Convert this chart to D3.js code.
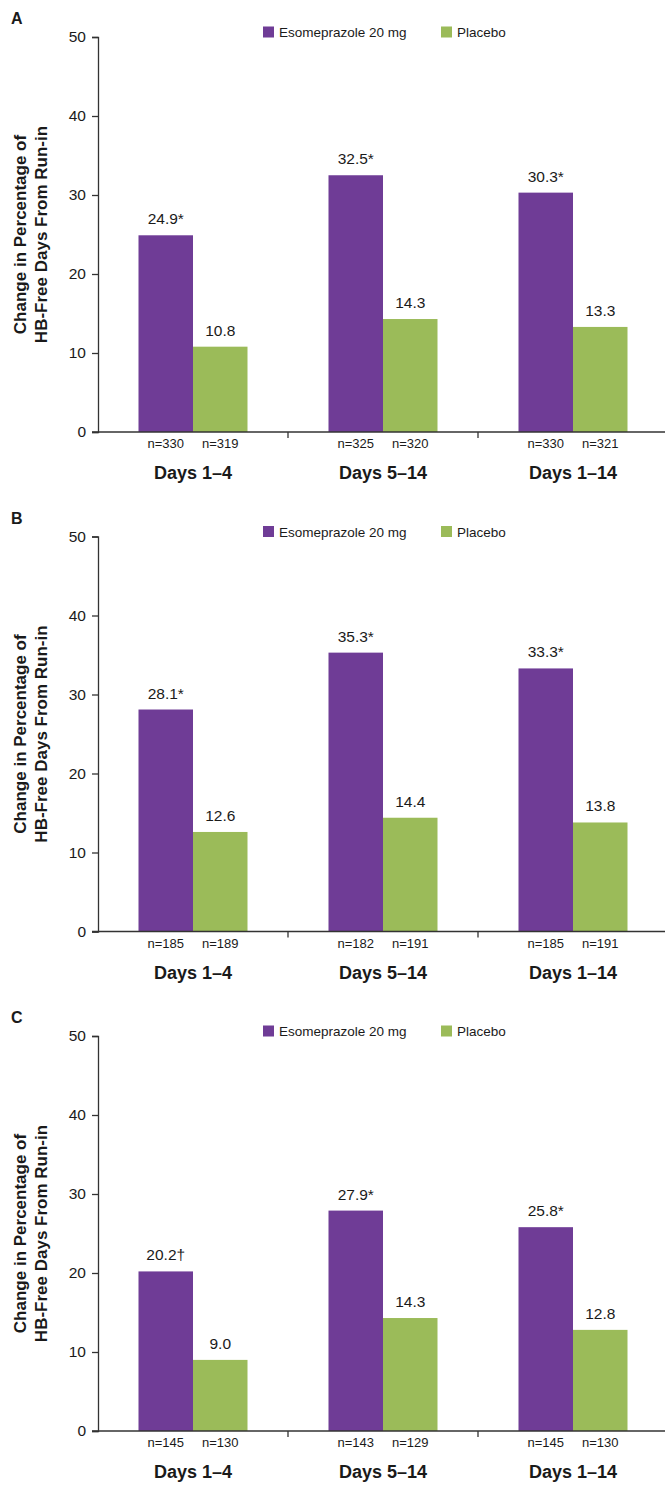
<!DOCTYPE html>
<html>
<head>
<meta charset="utf-8">
<script src="https://cdn.jsdelivr.net/npm/d3@7"></script>
<style>
  body { margin: 0; background: #fff; }
  text { font-family: "Liberation Sans", Arial, sans-serif; fill: #1a1a1a; }
</style>
</head>
<body>
<div class="chart"></div>
<script>
// data
var panels = ["A", "B", "C"];
var periods = ["Days 1\u20134", "Days 5\u201314", "Days 1\u201314"];
var seriesNames = ["Esomeprazole 20 mg", "Placebo"];
var esoValues = [[24.9, 32.5, 30.3], [28.1, 35.3, 33.3], [20.2, 27.9, 25.8]];
var placeboValues = [[10.8, 14.3, 13.3], [12.6, 14.4, 13.8], [9.0, 14.3, 12.8]];
var esoMarks = [["*", "*", "*"], ["*", "*", "*"], ["\u2020", "*", "*"]];
var esoN = [[330, 325, 330], [185, 182, 185], [145, 143, 145]];
var placeboN = [[319, 320, 321], [189, 191, 191], [130, 129, 130]];
var yTicks = [0, 10, 20, 30, 40, 50];

var colors = ["#6f3c96", "#9bbb59"];
var width = 665, height = 1485;
var panelStep = 499.5;

var svg = d3.select(".chart").append("svg")
  .attr("width", width)
  .attr("height", height);

function drawPanel(p) {
  var top = 37 + p * panelStep;
  var bottom = 432 + p * panelStep;
  var g = svg.append("g");

  var y = d3.scaleLinear().domain([0, 50]).range([bottom, top]);
  var x = d3.scaleBand().domain(periods).range([98, 668]);
  var xs = d3.scaleBand().domain(seriesNames).range([0, 109]);
  var pad = (x.bandwidth() - 109) / 2;

  // panel letter
  g.append("text")
    .attr("x", 11).attr("y", top - 13)
    .style("font-size", "16px").style("font-weight", "bold")
    .text(panels[p]);

  // legend
  var legend = g.append("g").attr("transform", "translate(263," + (top - 5) + ")");
  var legX = [0, 178];
  seriesNames.forEach(function(name, i) {
    legend.append("rect")
      .attr("x", legX[i]).attr("y", -5.5)
      .attr("width", 11).attr("height", 11)
      .attr("fill", colors[i]);
    legend.append("text")
      .attr("x", legX[i] + 16).attr("y", 5)
      .style("font-size", "13.5px")
      .text(name);
  });

  // bars
  periods.forEach(function(per, i) {
    var vals = [esoValues[p][i], placeboValues[p][i]];
    var ns = [esoN[p][i], placeboN[p][i]];
    seriesNames.forEach(function(s, j) {
      var bx = x(per) + pad + xs(s);
      g.append("rect")
        .attr("x", bx).attr("y", y(vals[j]))
        .attr("width", xs.bandwidth())
        .attr("height", y(0) - y(vals[j]))
        .attr("fill", colors[j]);
      g.append("text")
        .attr("x", bx + xs.bandwidth() / 2)
        .attr("y", y(vals[j]) - 11)
        .attr("text-anchor", "middle")
        .style("font-size", "15.5px")
        .text(vals[j].toFixed(1) + (j === 0 ? esoMarks[p][i] : ""));
      g.append("text")
        .attr("x", bx + xs.bandwidth() / 2)
        .attr("y", bottom + 16)
        .attr("text-anchor", "middle")
        .style("font-size", "13px")
        .text("n=" + ns[j]);
    });
    g.append("text")
      .attr("x", x(per) + x.bandwidth() / 2)
      .attr("y", bottom + 47)
      .attr("text-anchor", "middle")
      .style("font-size", "18px").style("font-weight", "bold")
      .text(per);
  });

  // y axis
  var yAxis = g.append("g")
    .attr("transform", "translate(98,0)")
    .call(d3.axisLeft(y).tickValues(yTicks).tickSize(6).tickPadding(6));
  yAxis.selectAll("text").style("font-size", "15.5px").attr("fill", "#1a1a1a");
  yAxis.selectAll("line, path").attr("stroke", "#333").attr("stroke-width", 1.3);

  // x axis: ticks only at group boundaries
  var xAxisG = g.append("g").attr("transform", "translate(0," + bottom + ")");
  xAxisG.append("line")
    .attr("x1", 92).attr("x2", 668)
    .attr("stroke", "#333").attr("stroke-width", 1.3);
  var bounds = [x(periods[1]), x(periods[2])];
  xAxisG.selectAll(".bt").data(bounds).enter().append("line")
    .attr("x1", function(d) { return d; }).attr("x2", function(d) { return d; })
    .attr("y1", 0).attr("y2", 6)
    .attr("stroke", "#333").attr("stroke-width", 1.3);

  // y title
  var cy = (top + bottom) / 2;
  var title = g.append("text")
    .attr("transform", "translate(26," + cy + ") rotate(-90)")
    .attr("text-anchor", "middle")
    .style("font-size", "17px").style("font-weight", "bold");
  title.append("tspan").attr("x", 0).attr("y", 0).text("Change in Percentage of");
  title.append("tspan").attr("x", 0).attr("y", 21).text("HB-Free Days From Run-in");
}

panels.forEach(function(d, p) { drawPanel(p); });
</script>
</body>
</html>
